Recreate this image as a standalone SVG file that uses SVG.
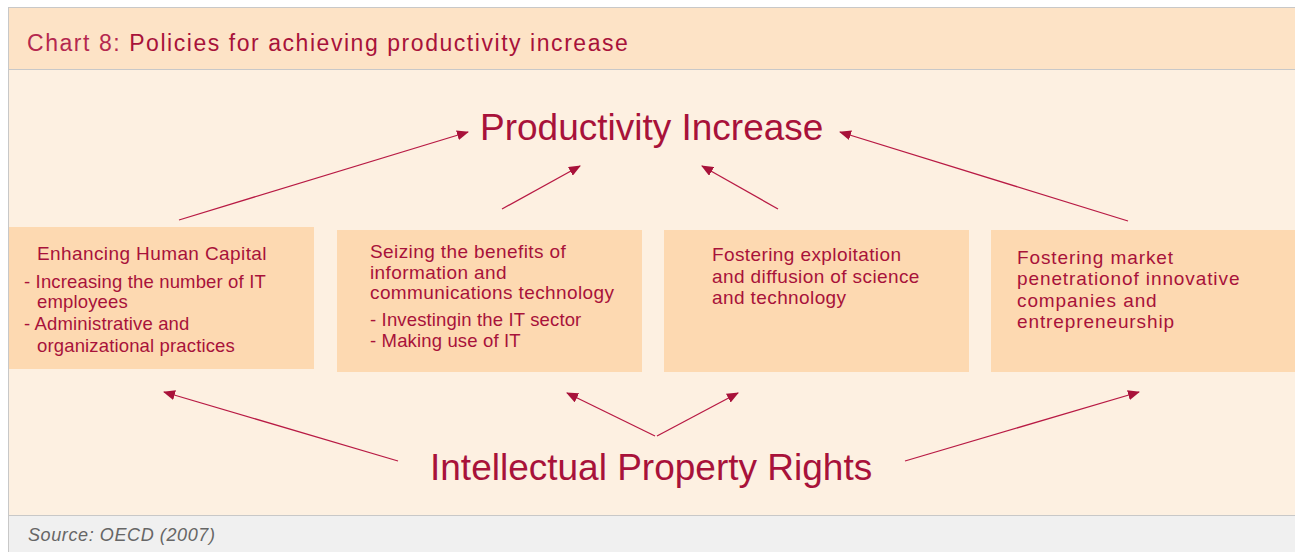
<svg xmlns="http://www.w3.org/2000/svg" width="1295" height="552" viewBox="0 0 1295 552">
<defs>
<marker id="ah" markerWidth="12" markerHeight="10" refX="11" refY="5" orient="auto" markerUnits="userSpaceOnUse">
<path d="M0,0 L12,5 L0,10 z" fill="#a8123a"/>
</marker>
<style>
.t{font-family:"Liberation Sans",Arial,sans-serif;fill:#a8123a}
.box{fill:#fdd9b1}
.h{font-size:19px;letter-spacing:0.4px}
.h4{font-size:19px;letter-spacing:0.9px}
.b{font-size:18.5px;letter-spacing:0.15px}
.big{font-size:37px}
.con line{stroke:#b81a44;stroke-width:1.3;marker-end:url(#ah)}
</style>
</defs>
<rect x="0" y="0" width="1295" height="552" fill="#ffffff"/>
<rect x="8" y="8" width="1290" height="61" fill="#fde3c6"/>
<rect x="8" y="69" width="1290" height="446" fill="#fdf0e1"/>
<rect x="8" y="515" width="1290" height="40" fill="#f0f0f0"/>
<line x1="8" y1="7.5" x2="1295" y2="7.5" stroke="#c8c8c8" stroke-width="1"/>
<line x1="8" y1="69.5" x2="1295" y2="69.5" stroke="#c8c8c8" stroke-width="1"/>
<line x1="8" y1="515.5" x2="1295" y2="515.5" stroke="#c8c8c8" stroke-width="1"/>
<line x1="8.5" y1="7" x2="8.5" y2="552" stroke="#c8c8c8" stroke-width="1"/>
<text class="t" x="27" y="51" font-size="23" letter-spacing="1.55"><tspan fill="#b5284f">Chart 8: </tspan><tspan>Policies for achieving productivity increase</tspan></text>
<text x="28" y="541" font-family="'Liberation Sans',Arial,sans-serif" font-size="18" letter-spacing="0.6" font-style="italic" fill="#666666">Source: OECD (2007)</text>

<g id="productivity">
<text class="t big" x="480" y="140">Productivity Increase</text>
</g>
<g id="ipr">
<text class="t big" x="430" y="480">Intellectual Property Rights</text>
</g>

<g id="box1">
<rect class="box" x="9" y="227" width="305" height="142"/>
<text class="t h" x="37" y="260">Enhancing Human Capital</text>
<text class="t b" x="24" y="288">- Increasing the number of IT</text>
<text class="t b" x="37" y="308">employees</text>
<text class="t b" x="24" y="330">- Administrative and</text>
<text class="t b" x="37" y="352">organizational practices</text>
</g>
<g id="box2">
<rect class="box" x="337" y="230" width="305" height="142"/>
<text class="t h" x="370" y="258" letter-spacing="0.2">Seizing the benefits of</text>
<text class="t h" x="370" y="279" letter-spacing="0.2">information and</text>
<text class="t h" x="370" y="299" letter-spacing="0">communications technology</text>
<text class="t b" x="370" y="326">- Investingin the IT sector</text>
<text class="t b" x="370" y="347">- Making use of IT</text>
</g>
<g id="box3">
<rect class="box" x="664" y="230" width="305" height="142"/>
<text class="t h" x="712" y="261" letter-spacing="0.55">Fostering exploitation</text>
<text class="t h" x="712" y="283" letter-spacing="0.55">and diffusion of science</text>
<text class="t h" x="712" y="304" letter-spacing="0.55">and technology</text>
</g>
<g id="box4">
<rect class="box" x="991" y="230" width="304" height="142"/>
<text class="t h4" x="1017" y="264">Fostering market</text>
<text class="t h4" x="1017" y="285">penetrationof innovative</text>
<text class="t h4" x="1017" y="307">companies and</text>
<text class="t h4" x="1017" y="328">entrepreneurship</text>
</g>

<g id="connectors" class="con">
<line x1="179" y1="220" x2="468" y2="132"/>
<line x1="502" y1="209" x2="580" y2="166"/>
<line x1="778" y1="209" x2="702" y2="166"/>
<line x1="1128" y1="221" x2="840" y2="132"/>
<line x1="398" y1="461" x2="164" y2="392"/>
<line x1="655" y1="436" x2="567" y2="393"/>
<line x1="657" y1="436" x2="738" y2="393"/>
<line x1="905" y1="461" x2="1139" y2="392"/>
</g>
</svg>
